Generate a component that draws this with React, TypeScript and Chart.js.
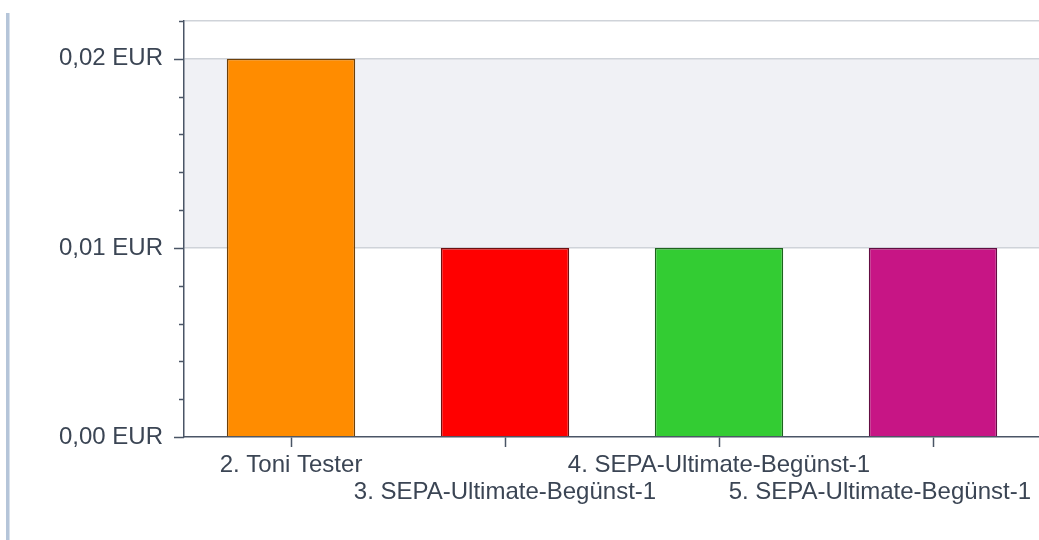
import React, { useEffect, useRef } from "react";
import { Chart, registerables } from "chart.js";

Chart.register(...registerables);

const categories: string[] = [
  "2. Toni Tester",
  "3. SEPA-Ultimate-Begünst-1",
  "4. SEPA-Ultimate-Begünst-1",
  "5. SEPA-Ultimate-Begünst-1",
];
const values: number[] = [0.02, 0.01, 0.01, 0.01];
const barColors: string[] = ["#FF8C00", "#FF0000", "#33CC33", "#C71585"];
const barBorders: string[] = ["#6e4008", "#701010", "#1d641d", "#620d42"];
const yMin = 0;
const yMax = 0.022;
const yStep = 0.002;
const majorStep = 0.01;

const AXIS = "#4a5566";
const TEXT = "#3b4554";
const GRID = "#cfd3d9";
const BAND = "#f0f1f5";
const FONT = "'Liberation Sans', Arial, sans-serif";
const FONT_SIZE = 24;

const isMajor = (v: number) => Math.abs(Math.round(v / majorStep) * majorStep - v) < 1e-9;

const decorPlugin = {
  id: "decor",
  beforeDraw(chart: any) {
    const { ctx, chartArea, scales } = chart;
    const y = scales.y;
    ctx.save();
    ctx.fillStyle = BAND;
    const top = y.getPixelForValue(0.02);
    const bot = y.getPixelForValue(0.01);
    ctx.fillRect(chartArea.left, top, chartArea.right - chartArea.left, bot - top);
    ctx.restore();
  },
  afterDraw(chart: any) {
    const { ctx, chartArea, scales } = chart;
    const y = scales.y;
    const x = scales.x;
    ctx.save();
    ctx.strokeStyle = AXIS;
    ctx.lineWidth = 1.5;
    y.ticks.forEach((t: any) => {
      const py = Math.round(y.getPixelForValue(t.value)) + 0.5;
      const len = isMajor(t.value) ? 10 : 5;
      ctx.beginPath();
      ctx.moveTo(chartArea.left - len, py);
      ctx.lineTo(chartArea.left, py);
      ctx.stroke();
    });
    // staggered category labels, kept inside the visible area
    ctx.font = `${FONT_SIZE}px ${FONT}`;
    ctx.fillStyle = TEXT;
    ctx.textBaseline = "middle";
    ctx.textAlign = "center";
    const rightLimit = 1031;
    categories.forEach((label, i) => {
      const w = ctx.measureText(label).width;
      let cx = x.getPixelForValue(i);
      if (cx + w / 2 > rightLimit) cx = rightLimit - w / 2;
      const ly = chartArea.bottom + (i % 2 === 0 ? 28 : 55);
      ctx.fillText(label, cx, ly);
    });
    ctx.restore();
  },
};

export default function App() {
  const ref = useRef<HTMLCanvasElement | null>(null);

  useEffect(() => {
    if (!ref.current) return;
    const chart = new Chart(ref.current, {
      type: "bar",
      data: {
        labels: categories,
        datasets: [
          {
            data: values,
            backgroundColor: barColors,
            borderColor: barBorders,
            borderWidth: 1.5,
            barPercentage: 0.6,
            categoryPercentage: 1.0,
          },
        ],
      },
      options: {
        animation: false,
        responsive: false,
        layout: { padding: { top: 21, left: 0, right: 0, bottom: 0 } },
        plugins: { legend: { display: false }, tooltip: { enabled: false } },
        scales: {
          x: {
            offset: true,
            grid: {
              offset: false,
              drawOnChartArea: false,
              drawTicks: true,
              tickLength: 10,
              tickColor: AXIS,
              tickWidth: 1.5,
            },
            border: { color: AXIS, width: 1.5 },
            ticks: {
              display: false,
              autoSkip: false,
              maxRotation: 0,
              minRotation: 0,
            },
            afterFit(scale: any) {
              scale.height = 103;
              scale.paddingLeft = 0;
              scale.paddingRight = 0;
            },
          },
          y: {
            min: yMin,
            max: yMax,
            grid: {
              drawTicks: false,
              color: (ctx: any) => {
                const v = ctx.tick ? ctx.tick.value : 0;
                if (v === 0) return "rgba(0,0,0,0)";
                if (isMajor(v) || Math.abs(v - yMax) < 1e-9) return GRID;
                return "rgba(0,0,0,0)";
              },
              lineWidth: 1.5,
            },
            border: { color: AXIS, width: 1.5 },
            ticks: {
              stepSize: yStep,
              padding: 21,
              color: TEXT,
              font: { family: FONT, size: FONT_SIZE },
              callback: (v: any) => {
                const n = Number(v);
                if (!isMajor(n)) return "";
                return n.toFixed(2).replace(".", ",") + " EUR";
              },
            },
            afterFit(scale: any) {
              scale.width = 184;
              scale.paddingTop = 0;
              scale.paddingBottom = 0;
            },
          },
        },
      },
      plugins: [decorPlugin],
    });
    return () => chart.destroy();
  }, []);

  return (
    <div
      style={{
        position: "fixed",
        left: 0,
        top: 0,
        width: 1039,
        height: 540,
        overflow: "hidden",
        background: "#ffffff",
      }}
    >
      <div
        style={{
          position: "absolute",
          left: 6,
          top: 13,
          bottom: 0,
          width: 3,
          background: "#b5c5d9",
          borderRight: "1px solid #d8e1ec",
        }}
      />
      <canvas
        ref={ref}
        width={1040}
        height={540}
        style={{ position: "absolute", left: 0, top: 0, width: 1040, height: 540 }}
      />
    </div>
  );
}
